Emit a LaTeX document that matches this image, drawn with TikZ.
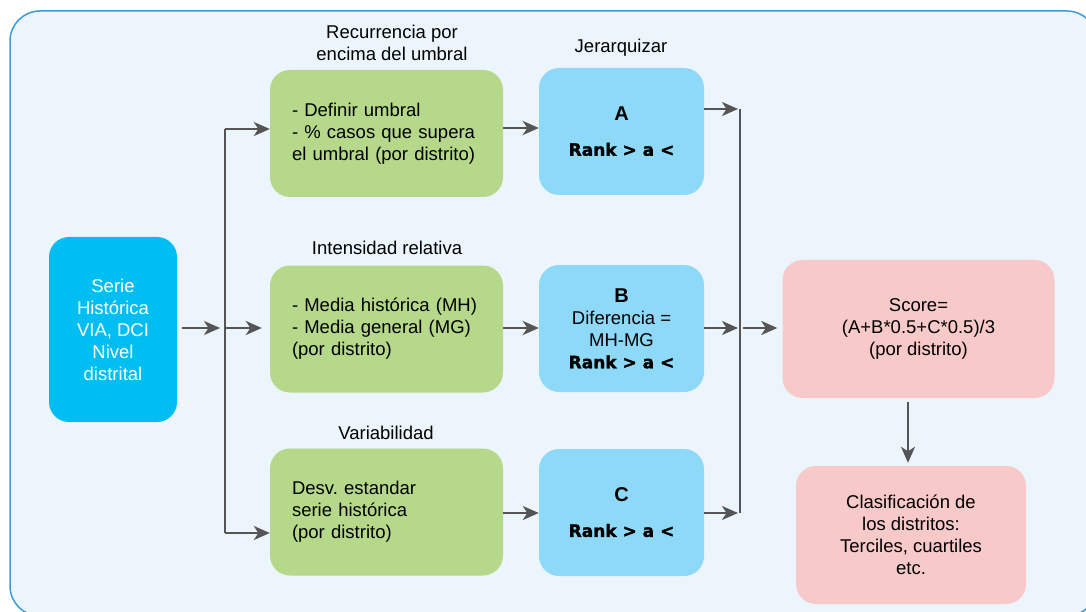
\documentclass[tikz,border=0pt]{standalone}
\usepackage{fontspec}
\setmainfont{Liberation Sans}
\newfontfamily\heavyfont[BoldFeatures={FakeBold=1.6}]{DejaVu Sans}
\usetikzlibrary{arrows.meta}
\frenchspacing
\definecolor{framecol}{HTML}{3C9BD8}
\definecolor{bgcol}{HTML}{ECF5FC}
\definecolor{seriecol}{HTML}{00BEF2}
\definecolor{greencol}{HTML}{B5D88A}
\definecolor{bluecol}{HTML}{8FD9F8}
\definecolor{pinkcol}{HTML}{F8C9C9}
\definecolor{arrcol}{HTML}{555555}
\tikzset{
  txt/.style={font=\fontsize{18.5}{22}\selectfont, inner sep=0pt, align=center, text=black},
  boxbase/.style={rounded corners=20pt, draw=none, font=\fontsize{18.5}{22}\selectfont, inner sep=0pt},
  seriebox/.style={boxbase, fill=seriecol, text=white, align=center, minimum width=128pt, minimum height=185pt},
  greenbox/.style={boxbase, fill=greencol, align=left, text width=189pt, inner xsep=22pt, minimum height=127pt},
  bluebox/.style={boxbase, fill=bluecol, align=center, minimum width=165pt, minimum height=127pt},
  pinkbox/.style={boxbase, fill=pinkcol, align=center},
  arr/.style={draw=arrcol, line width=2pt, -{Stealth[length=16pt, width=14pt, inset=4.5pt]}},
  ln/.style={draw=arrcol, line width=2pt}
}
\newcommand{\rankline}{{\heavyfont\bfseries\fontsize{17}{22}\selectfont Rank > a <}}
\newcommand{\letterA}[1]{{\bfseries\fontsize{20}{22}\selectfont #1}}
\begin{document}
\begin{tikzpicture}[x=1pt, y=-1pt]
\useasboundingbox (0,0) rectangle (1086,612);
\begin{scope}
  \clip (0,0) rectangle (1086,612);
  \draw[draw=framecol, fill=bgcol, line width=1.5pt, rounded corners=30pt] (10,11) rectangle (1097,616);
\end{scope}

% nodes
\node[seriebox] (serie) at (113,329.5) {Serie\\Histórica\\VIA, DCI\\Nivel\\distrital};

\node[greenbox] (g1) at (386.5,133.5) {- Definir umbral\\- \% casos que supera\\el umbral (por distrito)};
\node[greenbox] (g2) at (386.5,329) {- Media histórica (MH)\\- Media general (MG)\\(por distrito)};
\node[greenbox] (g3) at (386.5,512) {Desv. estandar\\serie histórica\\(por distrito)};

\node[bluebox] (bA) at (621.5,131.5) {\letterA{A}\\[13pt]\rankline};
\node[bluebox] (bB) at (621.5,328.5) {\letterA{B}\\Diferencia =\\MH-MG\\\rankline};
\node[bluebox] (bC) at (621.5,512.5) {\letterA{C}\\[13pt]\rankline};

\node[pinkbox, minimum width=272pt, minimum height=138pt] (score) at (918.5,329) {Score=\\(A+B*0.5+C*0.5)/3\\(por distrito)};
\node[pinkbox, minimum width=230pt, minimum height=138pt] (clas) at (911,535) {Clasificación de\\los distritos:\\Terciles, cuartiles\\etc.};

% labels
\node[txt] (l1) at (392,43) {Recurrencia por\\encima del umbral};
\node[txt] (l2) at (621,48) {Jerarquizar};
\node[txt] (l3) at (387,248) {Intensidad relativa};
\node[txt] (l4) at (386,433) {Variabilidad};

% junction coordinates
\coordinate (jT) at (225,129);
\coordinate (jM) at (225,328);
\coordinate (jB) at (225,533);
\coordinate (kT) at (740,109);
\coordinate (kM) at (740,328);
\coordinate (kB) at (740,513);
\coordinate (r1) at (0,128);
\coordinate (r2) at (0,328);
\coordinate (r3) at (0,513);
\coordinate (sx) at (908,0);

% connectors
\draw[arr, shorten <=5pt, shorten >=5pt] (serie.east |- jM) -- (jM);
\draw[ln] (jT) -- (jB);
\draw[arr] (jT) -- (jT -| g1.west);
\draw[arr, shorten >=8pt] (jM) -- (jM -| g2.west);
\draw[arr] (jB) -- (jB -| g3.west);

\draw[arr] (g1.east |- r1) -- (bA.west |- r1);
\draw[arr] (g2.east |- r2) -- (bB.west |- r2);
\draw[arr] (g3.east |- r3) -- (bC.west |- r3);

\draw[arr, shorten >=2pt] (bA.east |- kT) -- (kT);
\draw[arr, shorten >=2pt] (bB.east |- kM) -- (kM);
\draw[arr, shorten >=2pt] (bC.east |- kB) -- (kB);
\draw[ln] (kT) -- (kB);

\draw[arr, shorten <=3pt, shorten >=5pt] (kM) -- (score.west |- kM);
\draw[arr, shorten <=4pt, shorten >=3pt] (score.south -| sx) -- (clas.north -| sx);
\end{tikzpicture}
\end{document}
